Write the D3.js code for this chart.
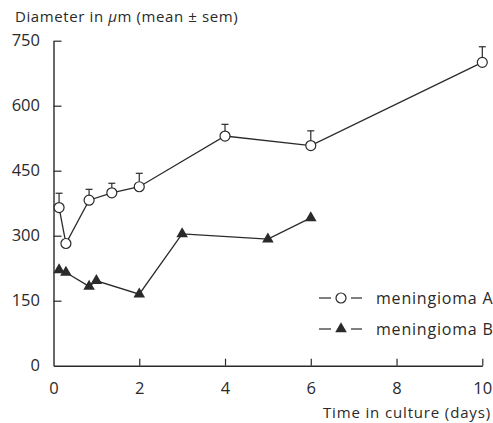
<!DOCTYPE html>
<html><head><meta charset="utf-8">
<script src="https://cdn.jsdelivr.net/npm/d3@7"></script>
<style>body{margin:0;background:#fff}svg{display:block}text{font-family:"Open Sans",sans-serif;fill:#2a2a2a}</style>
</head><body>
<script>
const daysA = [0.13, 0.29, 0.83, 1.36, 2, 4, 6, 10];
const meanA = [365, 282, 382, 399, 413, 530, 508, 700];
const semA  = [33, 0, 25, 22, 31, 27, 34, 36];
const daysB = [0.13, 0.29, 0.83, 1.0, 2, 3, 5, 6];
const meanB = [221, 215, 183, 196, 165, 304, 292, 341];
const xTicks = [0, 2, 4, 6, 8, 10];
const yTicks = [0, 150, 300, 450, 600, 750];
const seriesNames = ["meningioma A", "meningioma B"];

const W = 493, H = 423;
const svg = d3.select("body").append("svg").attr("width", W).attr("height", H);
const x = d3.scaleLinear().domain([0, 10]).range([53.5, 482.3]);
const y = d3.scaleLinear().domain([0, 750]).range([365.7, 40.7]);
const ink = "#2a2a2a";

// axes
const gx = svg.append("g").attr("transform", `translate(0,${y(0)})`)
  .call(d3.axisBottom(x).tickValues(xTicks).tickSizeInner(-7).tickSizeOuter(0).tickPadding(17));
const gy = svg.append("g").attr("transform", `translate(${x(0)},0)`)
  .call(d3.axisLeft(y).tickValues(yTicks).tickSizeInner(-8).tickSizeOuter(0).tickPadding(13.5));
[gx, gy].forEach(g => {
  g.select(".domain").attr("stroke", ink).attr("stroke-width", 1.4);
  g.selectAll(".tick line").attr("stroke", ink).attr("stroke-width", 1.2);
  g.selectAll(".tick text").style("font-family", '"Open Sans",sans-serif').style("font-size", "16.5px").attr("fill", ink);
});
gy.selectAll(".tick").filter(d => d === 0).select("line").remove();
gx.selectAll(".tick").filter(d => d === 0).select("line").remove();

const title = svg.append("text").attr("x", 15).attr("y", 22).style("font-size", "15px").style("letter-spacing", "0.6px");
title.append("tspan").text("Diameter in ");
title.append("tspan").style("font-style", "italic").text("μ");
title.append("tspan").text("m (mean ± sem)");
svg.append("text").attr("x", 491).attr("y", 418).attr("text-anchor", "end").style("font-size", "15px").style("letter-spacing", "0.85px")
  .text("Time in culture (days)");

const line = d3.line().x(d => x(d[0])).y(d => y(d[1]));
const dataA = daysA.map((d, i) => [d, meanA[i], semA[i]]);
const dataB = daysB.map((d, i) => [d, meanB[i]]);

svg.append("path").datum(dataB).attr("d", line).attr("fill", "none").attr("stroke", ink).attr("stroke-width", 1.3);
svg.append("path").datum(dataA).attr("d", line).attr("fill", "none").attr("stroke", ink).attr("stroke-width", 1.3);

const r = 5;
// error bars A
const eb = svg.append("g").attr("stroke", ink).attr("stroke-width", 1.2);
dataA.filter(d => d[2] > 0).forEach(d => {
  eb.append("line").attr("x1", x(d[0])).attr("x2", x(d[0])).attr("y1", y(d[1]) - r).attr("y2", y(d[1] + d[2]));
  eb.append("line").attr("x1", x(d[0]) - 3.5).attr("x2", x(d[0]) + 3.5).attr("y1", y(d[1] + d[2])).attr("y2", y(d[1] + d[2]));
});

const tri = d3.symbol().type(d3.symbolTriangle).size(58);
svg.append("g").selectAll("path").data(dataB).join("path")
  .attr("transform", d => `translate(${x(d[0])},${y(d[1])})`).attr("d", tri).attr("fill", ink);
svg.append("g").selectAll("circle").data(dataA).join("circle")
  .attr("cx", d => x(d[0])).attr("cy", d => y(d[1])).attr("r", r)
  .attr("fill", "#fff").attr("stroke", ink).attr("stroke-width", 1.2);

// legend
const leg = svg.append("g");
[298, 329].forEach((ly, i) => {
  leg.append("line").attr("x1", 319).attr("x2", 331).attr("y1", ly).attr("y2", ly).attr("stroke", ink).attr("stroke-width", 1.2);
  leg.append("line").attr("x1", 351).attr("x2", 362).attr("y1", ly).attr("y2", ly).attr("stroke", ink).attr("stroke-width", 1.2);
  if (i === 0) leg.append("circle").attr("cx", 341).attr("cy", ly).attr("r", r).attr("fill", "#fff").attr("stroke", ink).attr("stroke-width", 1.2);
  else leg.append("path").attr("transform", `translate(341,${ly})`).attr("d", tri).attr("fill", ink);
  leg.append("text").attr("x", 376).attr("y", ly).attr("dy", "0.35em").style("font-size", "16px").style("letter-spacing", "0.8px").text(seriesNames[i]);
});
</script>
</body></html>
